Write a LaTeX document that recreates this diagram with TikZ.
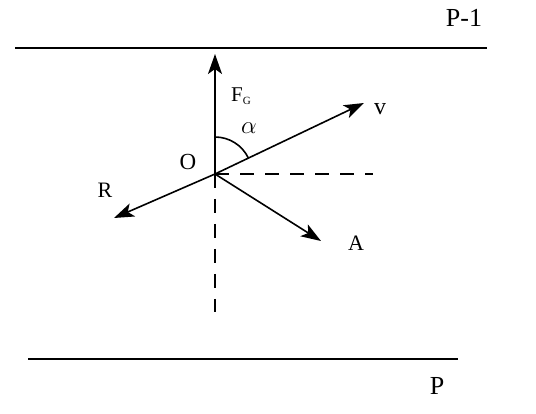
\documentclass[tikz,border=0pt]{standalone}
\usepackage{fontspec}
\setmainfont{Liberation Serif}
\usetikzlibrary{arrows.meta,calc}
\begin{document}
\begin{tikzpicture}[x=1pt,y=-1pt,
  vec/.style={line width=1.6pt,-{Stealth[length=20pt,width=14pt,inset=5pt]}},
  plane/.style={line width=2.4pt},
  aux/.style={line width=1.6pt,dash pattern=on 14pt off 11pt},
  lbl/.style={inner sep=0pt,font=\fontsize{22}{24}\selectfont}]
\useasboundingbox (0,0) rectangle (536,414);
\coordinate (O) at (215,174);
\coordinate (pl1) at (15,48); \coordinate (pr1) at (487,48);
\coordinate (pl2) at (28,359); \coordinate (pr2) at (458,359);
\coordinate (FG) at (215,54);
\coordinate (V) at (364,103);
\coordinate (R) at (114,218);
\coordinate (A) at (321,241);
\coordinate (H) at (373,174);
\coordinate (D) at (215,312);
\draw[plane] (pl1) -- (pr1);
\draw[plane] (pl2) -- (pr2);
\draw[aux] (O) -- (H);
\draw[aux] (O) -- (D);
\draw[vec] (O) -- (FG);
\draw[vec] (O) -- (V);
\draw[vec] (O) -- (R);
\draw[vec] (O) -- (A);
\draw[line width=1.6pt] ($(O)+(0,-37)$) arc[start angle=-90,end angle=-25.3,radius=37];
\node[lbl,font=\fontsize{26}{28}\selectfont] (p1) at (464,18) {P-1};
\node[lbl,font=\fontsize{26}{28}\selectfont] (p0) at (437,386) {P};
\node[lbl,font=\fontsize{23}{24}\selectfont] (o) at (188,162) {O};
\node[lbl] (r) at (105,190) {R};
\node[lbl] (a) at (356,243) {A};
\node[lbl,font=\fontsize{24}{24}\selectfont] (v) at (380,109) {v};
\node[lbl,font=\fontsize{21}{22}\selectfont] (f) at (241,96) {F\raisebox{-3pt}{\fontsize{11}{12}\selectfont G}};
\node[lbl,font=\fontsize{24}{24}\selectfont] (al) at (249,128) {$\alpha$};
\end{tikzpicture}
\end{document}
